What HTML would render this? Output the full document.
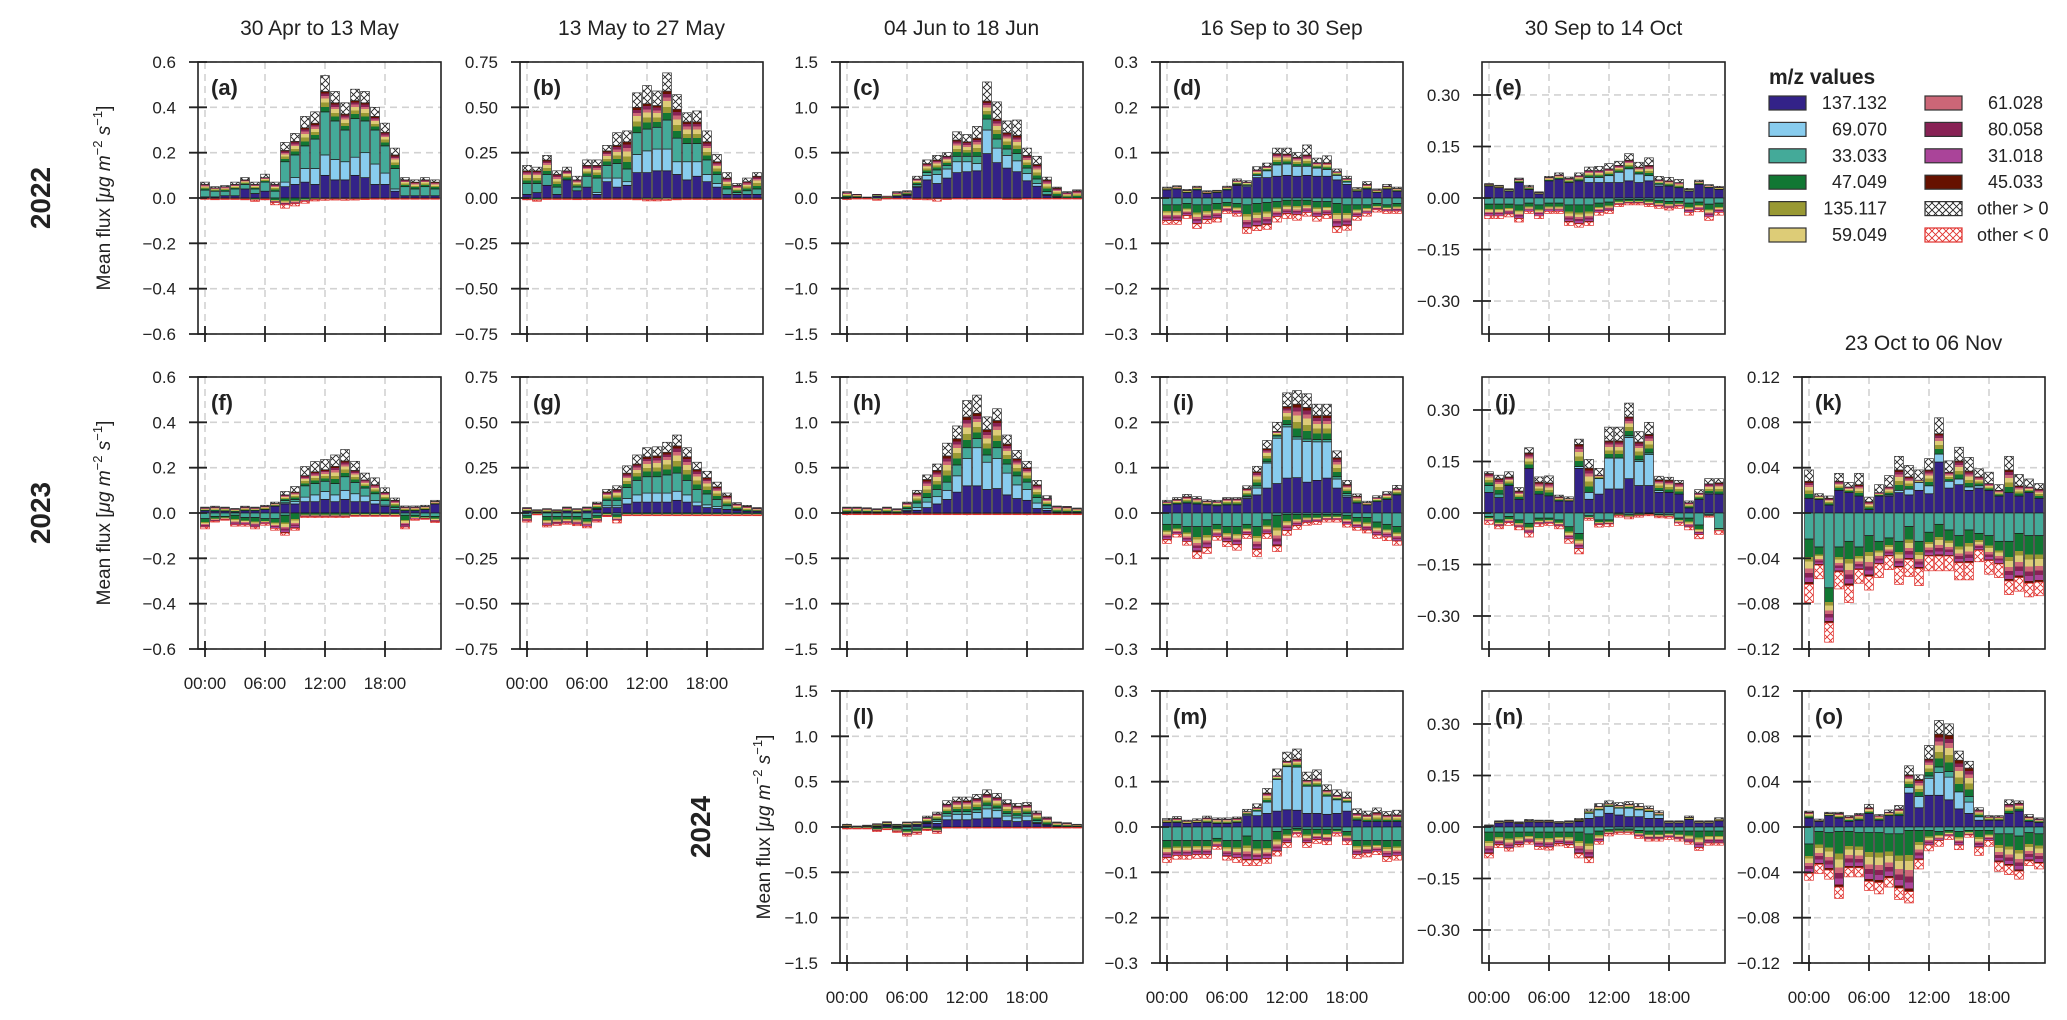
<!DOCTYPE html>
<html><head><meta charset="utf-8"><style>
html,body{margin:0;padding:0;background:#fff}
svg{display:block;font-family:"Liberation Sans",Arial,sans-serif}
</style></head><body>
<svg id="fig" width="2067" height="1020" viewBox="0 0 2067 1020" xmlns="http://www.w3.org/2000/svg">
<defs>
<pattern id="hatchPos" width="7" height="7" patternUnits="userSpaceOnUse"><rect width="7" height="7" fill="#fff"/><path d="M0,0L7,7M7,0L0,7" stroke="#222" stroke-width="0.9"/></pattern>
<pattern id="hatchNeg" width="7" height="7" patternUnits="userSpaceOnUse"><rect width="7" height="7" fill="#fff"/><path d="M0,0L7,7M7,0L0,7" stroke="#e0302c" stroke-width="0.9"/></pattern>
<linearGradient id="minPos" x1="0" y1="1" x2="0" y2="0">
<stop offset="0" stop-color="#117733"/><stop offset=".25" stop-color="#117733"/><stop offset=".25" stop-color="#999933"/><stop offset=".45" stop-color="#999933"/><stop offset=".45" stop-color="#DDCC77"/><stop offset=".65" stop-color="#DDCC77"/><stop offset=".65" stop-color="#CC6677"/><stop offset=".78" stop-color="#CC6677"/><stop offset=".78" stop-color="#882255"/><stop offset=".9" stop-color="#882255"/><stop offset=".9" stop-color="#661100"/><stop offset="1" stop-color="#661100"/>
</linearGradient>
<linearGradient id="minNeg" x1="0" y1="0" x2="0" y2="1">
<stop offset="0" stop-color="#117733"/><stop offset=".4" stop-color="#117733"/><stop offset=".4" stop-color="#999933"/><stop offset=".5" stop-color="#999933"/><stop offset=".5" stop-color="#DDCC77"/><stop offset=".65" stop-color="#DDCC77"/><stop offset=".65" stop-color="#CC6677"/><stop offset=".75" stop-color="#CC6677"/><stop offset=".75" stop-color="#882255"/><stop offset=".85" stop-color="#882255"/><stop offset=".85" stop-color="#AA4499"/><stop offset=".95" stop-color="#AA4499"/><stop offset=".95" stop-color="#661100"/><stop offset="1" stop-color="#661100"/>
</linearGradient>
</defs>
</svg>
<script>
// ---------- shared axis data ----------
const hours=[0,1,2,3,4,5,6,7,8,9,10,11,12,13,14,15,16,17,18,19,20,21,22,23];
const xTickHours=[0,6,12,18];
const xTickLabels=["00:00","06:00","12:00","18:00"];
const ticksA=[-0.6,-0.4,-0.2,0,0.2,0.4,0.6];
const tickLabelsA=["\u22120.6","\u22120.4","\u22120.2","0.0","0.2","0.4","0.6"];
const ticksB=[-0.75,-0.5,-0.25,0,0.25,0.5,0.75];
const tickLabelsB=["\u22120.75","\u22120.50","\u22120.25","0.00","0.25","0.50","0.75"];
const ticksC=[-1.5,-1,-0.5,0,0.5,1,1.5];
const tickLabelsC=["\u22121.5","\u22121.0","\u22120.5","0.0","0.5","1.0","1.5"];
const ticksD=[-0.3,-0.2,-0.1,0,0.1,0.2,0.3];
const tickLabelsD=["\u22120.3","\u22120.2","\u22120.1","0.0","0.1","0.2","0.3"];
const ticksE=[-0.3,-0.15,0,0.15,0.3];
const tickLabelsE=["\u22120.30","\u22120.15","0.00","0.15","0.30"];
const ticksK=[-0.12,-0.08,-0.04,0,0.04,0.08,0.12];
const tickLabelsK=["\u22120.12","\u22120.08","\u22120.04","0.00","0.04","0.08","0.12"];
const zeros=[0,0,0,0,0,0,0,0,0,0,0,0,0,0,0,0,0,0,0,0,0,0,0,0];

// ---------- panel (a) ----------
const a137=[.005,.005,.01,.01,.04,.02,.03,0,.05,.06,.07,.06,.1,.08,.08,.1,.09,.06,.06,.03,.01,.01,.01,.01];
const a69=[0,0,0,0,0,0,0,0,.02,.03,.06,.07,.09,.09,.08,.08,.11,.09,.05,.01,0,0,0,0];
const a33=[.03,.025,.02,.03,.02,.02,.04,.03,.09,.1,.1,.13,.19,.17,.14,.17,.14,.15,.12,.09,.04,.03,.04,.03];
const aMin=[.025,.015,.02,.02,.02,.02,.02,.03,.05,.06,.08,.07,.09,.08,.07,.08,.08,.06,.06,.06,.03,.03,.03,.03];
const aOth=[.01,.005,.005,.01,.01,.01,.015,.01,.035,.035,.05,.05,.07,.05,.05,.05,.05,.04,.04,.03,.01,.01,.01,.01];
const aNMin=[.003,.005,.004,.004,.005,.01,.005,.02,.03,.025,.015,.008,.005,.005,.005,.005,.004,.003,.003,.003,.003,.003,.003,.003];
const aNOth=[.003,.002,.002,.002,.003,.005,.003,.01,.015,.01,.008,.005,.005,.004,.005,.004,.003,.002,.002,.002,.002,.002,.002,.002];
// ---------- panel (b) ----------
const b137=[.02,.03,.07,.02,.1,.04,.06,.02,.09,.06,.07,.14,.14,.15,.15,.13,.1,.12,.09,.06,.02,.02,.02,.02];
const b69=[0,0,0,0,0,0,0,.01,.02,.05,.02,.1,.12,.12,.12,.07,.1,.08,.04,.02,0,0,0,0];
const b33=[.06,.05,.06,.04,0,.02,.06,.08,.07,.08,.07,.12,.12,.12,.16,.13,.1,.1,.08,.05,.03,.01,.02,.03];
const bMin=[.07,.07,.08,.07,.05,.04,.06,.07,.08,.1,.15,.14,.14,.12,.16,.16,.12,.12,.1,.07,.06,.04,.05,.07];
const bOth=[.03,.02,.025,.02,.02,.02,.03,.03,.03,.07,.06,.08,.1,.08,.1,.08,.05,.06,.06,.04,.03,.01,.02,.02];
const bNMin=[.006,.012,.005,.005,.005,.006,.005,.005,.005,.005,.005,.006,.01,.01,.008,.006,.005,.005,.005,.005,.005,.005,.005,.005];
const bNOth=[.004,.006,.003,.003,.003,.003,.003,.003,.003,.003,.003,.004,.006,.006,.005,.004,.003,.003,.003,.003,.003,.003,.003,.003];
// ---------- panel (c) ----------
const c137=[.01,.01,0,.02,0,.02,.03,.12,.2,.16,.22,.28,.29,.3,.49,.39,.33,.29,.19,.13,.03,.01,0,0];
const c69=[0,0,0,0,0,0,0,.01,.05,.1,.1,.12,.11,.08,.26,.16,.14,.12,.08,.03,.01,0,0,0];
const c33=[0,0,0,0,0,0,.01,.02,.03,.05,.04,.06,.06,.08,.12,.1,.07,.08,.06,.05,.03,.01,0,0];
const cMin=[.05,.03,.01,.02,.02,.04,.03,.06,.1,.11,.1,.18,.16,.2,.2,.22,.18,.2,.14,.16,.13,.09,.06,.08];
const cOth=[.01,0,0,0,0,.01,.01,.03,.04,.05,.04,.09,.08,.13,.21,.19,.13,.17,.08,.09,.03,.01,.01,.01];
const cNMin=[.01,.005,.005,.015,.005,.005,.005,.01,.01,.01,.01,.005,.005,.005,.005,.005,.01,.01,.005,.005,.005,.005,.005,.005];
const cNOth=[.005,.003,.003,.01,.003,.003,.003,.005,.01,.025,.005,.005,.005,.005,.005,.005,.005,.005,.005,.005,.003,.003,.003,.003];
// ---------- panel (d) ----------
const d137=[.018,.02,.012,.018,.01,.012,.018,.028,.025,.045,.045,.048,.05,.048,.05,.048,.048,.04,.03,.015,.02,.012,.02,.015];
const d69=[0,0,0,0,0,0,0,.002,.003,.005,.015,.025,.025,.022,.02,.018,.015,.01,.005,0,0,0,0,0];
const dMin=[.004,.005,.005,.006,.004,.004,.006,.008,.007,.012,.01,.025,.022,.02,.025,.012,.015,.008,.008,.005,.01,.006,.006,.006];
const dOth=[.002,.002,.002,.002,.002,.001,.002,.004,.003,.007,.007,.012,.013,.01,.022,.01,.015,.006,.005,.003,.006,.002,.004,.003];
const dN33=[.015,.015,.012,.015,.015,.012,.01,.012,.015,.012,.01,.008,.005,.005,.005,.008,.008,.012,.015,.015,.015,.012,.015,.012];
const dNMin=[.035,.035,.027,.042,.033,.033,.019,.022,.051,.05,.049,.033,.03,.032,.027,.033,.029,.052,.046,.026,.019,.014,.014,.017];
const dNOth=[.008,.008,.006,.01,.008,.008,.005,.006,.012,.01,.01,.012,.01,.012,.008,.01,.008,.012,.01,.008,.006,.005,.005,.005];
// ---------- panel (e) ----------
const e137=[.035,.03,.02,.045,.025,.012,.05,.055,.045,.05,.045,.045,.045,.045,.05,.045,.05,.035,.035,.03,.02,.04,.03,.025];
const e69=[0,0,0,0,0,0,0,0,0,0,.015,.015,.02,.03,.035,.025,.015,.005,0,0,0,0,0,0];
const eMin=[.005,.005,.005,.01,.008,.004,.01,.012,.012,.015,.02,.02,.02,.02,.025,.02,.03,.013,.015,.015,.005,.008,.006,.006];
const eOth=[.002,.002,.002,.003,.004,.002,.003,.006,.004,.008,.01,.012,.015,.012,.019,.014,.022,.01,.01,.009,.003,.004,.003,.003];
const eN33=[.018,.018,.018,.02,.015,.02,.015,.015,.02,.02,.02,.015,.012,.005,.004,.004,.005,.008,.01,.01,.015,.012,.018,.015];
const eNMin=[.034,.034,.029,.04,.024,.032,.024,.024,.05,.055,.05,.027,.025,.014,.011,.011,.014,.016,.019,.014,.027,.022,.037,.027];
const eNOth=[.008,.008,.008,.01,.006,.008,.006,.006,.01,.01,.01,.008,.008,.006,.005,.005,.006,.006,.006,.006,.008,.006,.01,.008];
// ---------- panel (f) ----------
const f137=[.01,.008,.008,.005,.01,.01,.015,.03,.04,.04,.05,.05,.06,.05,.06,.05,.05,.04,.03,.015,.01,.01,.015,.04];
const f69=[0,0,0,0,0,0,0,0,.005,.01,.02,.03,.035,.03,.04,.035,.025,.015,.005,0,0,0,0,0];
const f33=[0,0,0,0,0,0,0,0,.01,.01,.05,.05,.045,.05,.06,.05,.035,.03,.02,.01,0,0,0,0];
const fMin=[.013,.018,.015,.012,.016,.013,.015,.012,.025,.032,.045,.052,.051,.076,.07,.053,.036,.04,.036,.031,.016,.016,.014,.011];
const fOth=[.003,.004,.003,.003,.004,.003,.004,.006,.015,.025,.04,.045,.045,.05,.05,.04,.03,.03,.02,.01,.005,.005,.005,.005];
const fN33=[.025,.015,.015,.01,.02,.02,.025,.025,.01,0,0,0,0,0,0,0,0,0,0,0,.01,.01,.015,.015];
const fNMin=[.037,.021,.014,.042,.032,.042,.023,.043,.078,.068,.016,.016,.016,.016,.016,.012,.012,.012,.012,.012,.052,.018,.01,.023];
const fNOth=[.008,.004,.003,.006,.006,.008,.006,.008,.01,.008,.004,.004,.004,.004,.004,.003,.003,.003,.003,.003,.008,.004,.003,.004];
// ---------- panel (g) ----------
const g137=[.01,.005,.005,.005,.01,.005,.01,.02,.03,.03,.05,.06,.06,.06,.06,.07,.06,.04,.03,.025,.02,.015,.01,.01];
const g69=[0,0,0,0,0,0,0,0,.01,.01,.03,.04,.05,.05,.05,.05,.04,.02,.015,.01,0,0,0,0];
const g33=[0,0,0,0,0,0,0,.005,.03,.03,.06,.08,.09,.09,.1,.1,.08,.07,.06,.04,.02,.005,0,0];
const gMin=[.017,.011,.017,.011,.02,.017,.02,.028,.045,.06,.08,.09,.11,.115,.125,.15,.13,.11,.09,.07,.055,.03,.027,.016];
const gOth=[.003,.002,.002,.002,.003,.002,.003,.007,.015,.02,.04,.05,.05,.05,.055,.06,.05,.04,.035,.025,.015,.007,.005,.004];
const gN33=[.015,0,.02,.02,.02,.02,.03,.015,0,.01,0,0,0,0,0,0,0,0,0,0,0,0,0,0];
const gNMin=[.029,.007,.049,.041,.036,.043,.044,.029,.016,.03,.011,.011,.011,.011,.011,.011,.011,.011,.011,.011,.011,.011,.011,.011];
const gNOth=[.006,.003,.008,.007,.006,.007,.008,.006,.004,.015,.004,.004,.004,.004,.004,.004,.004,.004,.004,.004,.004,.004,.004,.004];
// ---------- panel (h) ----------
const h137=[.01,.01,.01,.01,.01,.005,.02,.03,.06,.1,.15,.23,.3,.3,.26,.27,.2,.16,.14,.05,.03,.01,.01,.01];
const h69=[0,0,0,0,0,0,.01,.03,.06,.08,.1,.18,.3,.42,.3,.33,.24,.15,.12,.06,.02,0,0,0];
const h33=[0,0,0,0,0,0,.02,.05,.05,.08,.09,.12,.12,.1,.08,.12,.1,.1,.08,.06,.03,0,0,0];
const hMin=[.05,.05,.043,.033,.05,.038,.06,.11,.2,.21,.29,.29,.34,.28,.28,.3,.22,.19,.16,.14,.08,.062,.058,.04];
const hOth=[.005,.005,.005,.004,.005,.004,.01,.03,.05,.07,.14,.14,.18,.2,.14,.13,.1,.09,.07,.05,.03,.005,.005,.005];
const hNMin=[.012,.012,.012,.012,.012,.012,.012,.012,.012,.012,.012,.012,.012,.012,.012,.012,.012,.012,.012,.012,.012,.012,.012,.012];
const hNOth=[.006,.006,.006,.006,.006,.006,.006,.006,.006,.006,.006,.006,.006,.006,.006,.006,.006,.006,.006,.006,.006,.006,.006,.006];
// ---------- panel (i) ----------
const i137=[.018,.02,.022,.02,.018,.016,.018,.018,.032,.04,.055,.065,.077,.078,.068,.072,.077,.055,.035,.022,.018,.025,.03,.04];
const i69=[0,0,0,0,0,0,0,0,.003,.015,.055,.1,.113,.085,.09,.085,.08,.02,.003,0,0,0,0,0];
const i33=[0,0,0,0,0,0,0,0,.002,.005,.003,.005,.005,.005,.005,.005,.005,.005,.005,0,0,0,0,0];
const iMin=[.007,.01,.014,.012,.008,.009,.013,.013,.017,.031,.029,.01,.04,.072,.07,.053,.053,.042,.02,.015,.005,.009,.012,.014];
const iOth=[.003,.004,.005,.004,.003,.003,.003,.003,.006,.012,.018,.02,.03,.03,.03,.025,.025,.015,.009,.005,.003,.004,.005,.007];
const iN33=[.025,.025,.03,.03,.03,.025,.03,.03,.025,.03,.015,.005,.003,.003,.003,.003,.003,.003,.005,.01,.01,.02,.025,.03];
const iNMin=[.034,.022,.033,.056,.047,.027,.034,.04,.023,.051,.031,.068,.036,.025,.018,.016,.012,.012,.02,.022,.028,.029,.028,.032];
const iNOth=[.008,.006,.008,.014,.012,.008,.01,.012,.008,.015,.01,.012,.01,.008,.006,.006,.005,.005,.006,.006,.006,.007,.008,.009];
// ---------- panel (j) ----------
const j137=[.06,.045,.08,.04,.13,.055,.05,.035,.035,.13,.04,.055,.07,.07,.1,.08,.08,.06,.06,.055,.015,.04,.055,.055];
const j69=[0,0,0,0,0,0,0,0,0,.005,.02,.045,.09,.09,.12,.07,.09,.005,0,0,0,0,.003,0];
const j33=[.02,.01,0,0,0,0,0,0,0,0,0,0,0,0,.005,.005,.005,0,0,0,0,0,0,0];
const jMin=[.035,.045,.025,.024,.045,.035,.038,.012,.007,.065,.071,.01,.05,.05,.055,.052,.054,.032,.036,.032,.015,.018,.027,.033];
const jOth=[.005,.01,.015,.01,.015,.015,.02,.005,.005,.015,.025,.02,.04,.04,.04,.03,.035,.01,.008,.008,.005,.01,.015,.012];
const jN33=[.01,.02,.01,.02,.03,.015,.015,.02,.04,.06,.008,.02,.02,.003,.005,.003,.002,.004,.005,.015,.015,.035,.005,.045];
const jNMin=[.013,.018,.018,.021,.028,.017,.015,.018,.036,.044,.008,.014,.012,.005,.007,.005,.003,.006,.006,.014,.026,.028,.004,.007];
const jNOth=[.01,.008,.008,.008,.012,.007,.006,.008,.012,.015,.005,.007,.007,.004,.005,.004,.003,.004,.004,.007,.008,.012,.003,.01];
// ---------- panel (k) ----------
const k137=[.013,.012,.007,.02,.018,.015,.003,.015,.015,.018,.016,.02,.017,.045,.022,.025,.02,.022,.02,.015,.018,.015,.018,.013];
const k69=[0,0,0,0,0,0,0,0,.001,.002,.005,.007,.007,.007,.006,.005,.003,.002,0,0,0,0,0,0];
const kMin=[.015,.003,.006,.008,.005,.01,.007,.003,.007,.018,.011,.002,.014,.018,.008,.016,.014,.008,.006,.005,.02,.009,.005,.008];
const kOth=[.01,.002,.002,.007,.004,.01,.004,.007,.01,.012,.01,.009,.01,.014,.01,.012,.012,.007,.01,.005,.012,.01,.007,.005];
const kN33=[.023,.03,.066,.03,.025,.03,.02,.025,.022,.025,.012,.025,.017,.01,.015,.02,.015,.018,.02,.025,.025,.018,.02,.02];
const kNMin=[.04,.016,.031,.022,.039,.02,.036,.02,.016,.023,.029,.024,.021,.028,.023,.024,.029,.015,.022,.02,.035,.039,.042,.041];
const kNOth=[.016,.012,.017,.015,.015,.012,.012,.012,.012,.015,.015,.015,.013,.013,.013,.015,.015,.01,.012,.012,.012,.012,.012,.012];
// ---------- panel (l) ----------
const l137=[.005,0,.005,.01,.02,.01,.01,.02,.04,.04,.08,.08,.08,.09,.1,.1,.07,.06,.07,.04,.02,.01,.005,.005];
const l69=[0,0,0,0,0,0,0,0,.005,.02,.04,.06,.06,.07,.1,.08,.05,.04,.05,.01,0,0,0,0];
const l33=[0,0,0,0,.005,0,.01,.01,.01,.02,.03,.03,.03,.03,.04,.03,.03,.03,.03,.02,.01,0,0,0];
const lMin=[.022,.009,.013,.022,.028,.017,.03,.022,.05,.064,.1,.115,.12,.125,.12,.115,.11,.1,.09,.085,.07,.04,.037,.022];
const lOth=[.003,.001,.002,.004,.005,.003,.005,.006,.015,.02,.04,.045,.04,.045,.05,.045,.04,.03,.03,.02,.01,.005,.005,.003];
const lN33=[0,0,0,.01,0,.01,.03,.02,0,.01,0,0,0,0,0,0,0,0,0,0,0,0,0,0];
const lNMin=[.015,.015,.015,.03,.022,.04,.055,.045,.03,.045,.005,.005,.005,.005,.005,.005,.005,.005,.005,.005,.005,.005,.005,.005];
const lNOth=[.005,.005,.005,.01,.008,.01,.015,.015,.01,.015,.005,.005,.005,.005,.005,.005,.005,.005,.005,.005,.005,.005,.005,.005];
// ---------- panel (m) ----------
const m137=[.01,.01,.008,.01,.01,.008,.008,.01,.025,.025,.03,.035,.038,.037,.03,.03,.028,.03,.035,.015,.012,.012,.012,.012];
const m69=[0,0,0,0,0,0,0,0,.003,.01,.025,.07,.095,.095,.06,.06,.04,.03,.02,0,0,0,0,0];
const mMin=[.006,.009,.005,.005,.01,.009,.009,.009,.006,.008,.02,.008,.012,.018,.013,.016,.013,.01,.01,.015,.015,.02,.014,.015];
const mOth=[.003,.004,.002,.003,.004,.003,.003,.003,.005,.008,.01,.015,.02,.022,.018,.02,.012,.012,.012,.01,.008,.01,.008,.01];
const mN33=[.03,.03,.03,.03,.03,.025,.03,.03,.02,.03,.03,.01,.005,.003,.005,.005,.005,.005,.01,.03,.03,.03,.03,.03];
const mNMin=[.038,.033,.033,.031,.031,.018,.035,.038,.053,.043,.04,.044,.03,.012,.03,.023,.026,.009,.021,.031,.028,.024,.036,.033];
const mNOth=[.01,.008,.008,.008,.008,.006,.008,.01,.012,.012,.01,.01,.01,.007,.01,.008,.008,.006,.008,.008,.008,.007,.01,.01];
// ---------- panel (n) ----------
const n137=[.004,.012,.014,.01,.015,.014,.014,.011,.012,.016,.025,.03,.04,.035,.03,.03,.025,.025,.012,.012,.022,.012,.012,.018];
const n69=[0,0,0,0,0,0,0,0,0,.002,.015,.02,.02,.02,.025,.02,.02,.01,0,0,0,0,0,0];
const nMin=[.001,.004,.004,.003,.004,.004,.004,.003,.004,.004,.007,.01,.008,.008,.011,.01,.009,.007,.004,.004,.006,.004,.004,.005];
const nOth=[.001,.002,.002,.002,.003,.002,.002,.002,.002,.003,.005,.008,.008,.008,.008,.008,.007,.005,.002,.002,.004,.002,.002,.004];
const nN33=[.015,.015,.015,.015,.015,.015,.015,.015,.015,.015,.02,.012,.008,.006,.006,.01,.012,.012,.012,.012,.012,.012,.012,.012];
const nNMin=[.063,.037,.047,.037,.029,.042,.044,.034,.037,.063,.07,.03,.012,.01,.01,.017,.023,.023,.018,.023,.032,.048,.035,.035];
const nNOth=[.012,.008,.008,.006,.006,.008,.008,.006,.008,.012,.014,.008,.006,.005,.005,.006,.006,.006,.006,.006,.006,.008,.006,.006];
// ---------- panel (o) ----------
const o137=[.008,.005,.01,.008,.005,.006,.012,.006,.01,.01,.03,.017,.028,.028,.024,.016,.012,.006,.006,.006,.012,.014,.005,.004];
const o69=[0,0,0,0,0,0,0,0,0,0,.005,.01,.015,.02,.02,.015,.01,.003,0,0,0,0,0,0];
const o33=[0,0,0,0,0,0,0,0,0,0,0,0,.002,.005,.005,0,.005,0,0,0,0,0,0,0];
const oMin=[.005,.001,.002,.004,.004,.005,.005,.004,.003,.006,.011,.015,.015,.029,.032,.028,.025,.006,.003,.003,.008,.007,.004,.003];
const oOth=[.001,.001,.001,.001,.001,.001,.003,.001,.002,.003,.008,.004,.012,.012,.01,.008,.006,.002,.001,.001,.004,.002,.002,.001];
const oN33=[.015,.004,.005,.004,.004,.005,.005,.005,.006,.006,.003,.003,.003,.004,.003,.004,.003,.003,.003,.006,.006,.008,.005,.006];
const oNMin=[.026,.029,.033,.049,.032,.031,.043,.044,.039,.048,.054,.026,.013,.008,.005,.012,.004,.015,.009,.025,.028,.031,.025,.026];
const oNOth=[.006,.008,.008,.01,.008,.008,.008,.01,.008,.01,.01,.008,.005,.005,.003,.004,.002,.007,.005,.008,.008,.007,.004,.005];

// ---------- layout ----------
const colLeft=[198,520,840,1160,1482,1802];
const rowTop=[62,377,691];
const PW=243, PH=272;
const posFill=["#332288","#88CCEE","#44AA99","url(#minPos)","url(#hatchPos)"];
const posNames=["137-132","69-070","33-033","minor-pos","other-pos"];
const negFill=["#44AA99","url(#minNeg)","url(#hatchNeg)"];
const negNames=["33-033-neg","minor-neg","other-neg"];

const panels=[
 {id:'a',c:0,r:0,ymax:0.6,t:ticksA,tl:tickLabelsA,pos:[a137,a69,a33,aMin,aOth],neg:[zeros,aNMin,aNOth],xl:false},
 {id:'b',c:1,r:0,ymax:0.75,t:ticksB,tl:tickLabelsB,pos:[b137,b69,b33,bMin,bOth],neg:[zeros,bNMin,bNOth],xl:false},
 {id:'c',c:2,r:0,ymax:1.5,t:ticksC,tl:tickLabelsC,pos:[c137,c69,c33,cMin,cOth],neg:[zeros,cNMin,cNOth],xl:false},
 {id:'d',c:3,r:0,ymax:0.3,t:ticksD,tl:tickLabelsD,pos:[d137,d69,zeros,dMin,dOth],neg:[dN33,dNMin,dNOth],xl:false},
 {id:'e',c:4,r:0,ymax:0.396,t:ticksE,tl:tickLabelsE,pos:[e137,e69,zeros,eMin,eOth],neg:[eN33,eNMin,eNOth],xl:false},
 {id:'f',c:0,r:1,ymax:0.6,t:ticksA,tl:tickLabelsA,pos:[f137,f69,f33,fMin,fOth],neg:[fN33,fNMin,fNOth],xl:true},
 {id:'g',c:1,r:1,ymax:0.75,t:ticksB,tl:tickLabelsB,pos:[g137,g69,g33,gMin,gOth],neg:[gN33,gNMin,gNOth],xl:true},
 {id:'h',c:2,r:1,ymax:1.5,t:ticksC,tl:tickLabelsC,pos:[h137,h69,h33,hMin,hOth],neg:[zeros,hNMin,hNOth],xl:false},
 {id:'i',c:3,r:1,ymax:0.3,t:ticksD,tl:tickLabelsD,pos:[i137,i69,i33,iMin,iOth],neg:[iN33,iNMin,iNOth],xl:false},
 {id:'j',c:4,r:1,ymax:0.396,t:ticksE,tl:tickLabelsE,pos:[j137,j69,j33,jMin,jOth],neg:[jN33,jNMin,jNOth],xl:false},
 {id:'k',c:5,r:1,ymax:0.12,t:ticksK,tl:tickLabelsK,pos:[k137,k69,zeros,kMin,kOth],neg:[kN33,kNMin,kNOth],xl:false},
 {id:'l',c:2,r:2,ymax:1.5,t:ticksC,tl:tickLabelsC,pos:[l137,l69,l33,lMin,lOth],neg:[lN33,lNMin,lNOth],xl:true},
 {id:'m',c:3,r:2,ymax:0.3,t:ticksD,tl:tickLabelsD,pos:[m137,m69,zeros,mMin,mOth],neg:[mN33,mNMin,mNOth],xl:true},
 {id:'n',c:4,r:2,ymax:0.396,t:ticksE,tl:tickLabelsE,pos:[n137,n69,zeros,nMin,nOth],neg:[nN33,nNMin,nNOth],xl:true},
 {id:'o',c:5,r:2,ymax:0.12,t:ticksK,tl:tickLabelsK,pos:[o137,o69,o33,oMin,oOth],neg:[oN33,oNMin,oNOth],xl:true}
];

const NS="http://www.w3.org/2000/svg";
const svg=document.getElementById('fig');
function mk(tag,parent,attrs){const e=document.createElementNS(NS,tag);for(const k in attrs)e.setAttribute(k,attrs[k]);parent.appendChild(e);return e;}

panels.forEach(p=>{
  const L=colLeft[p.c], T=rowTop[p.r];
  const xs=h=>L+7+10*h;
  const ys=v=>T+PH/2-v/p.ymax*(PH/2);
  const g=mk('g',svg,{});
  
  
  // grid
  xTickHours.forEach(h=>{
    const ln=mk('line',g,{x1:xs(h),x2:xs(h),y1:T,y2:T+PH,stroke:'#d2d2d2','stroke-width':1.6,'stroke-dasharray':'7,5'});
    
    
  });
  p.t.forEach(v=>{
    const ln=mk('line',g,{x1:L,x2:L+PW,y1:ys(v),y2:ys(v),stroke:'#d2d2d2','stroke-width':1.6,'stroke-dasharray':'7,5'});
    
    
  });
  // bars
  hours.forEach(h=>{
    let cum=0;
    p.pos.forEach((arr,si)=>{
      const v=arr[h]; if(!(v>0))return;
      const r=mk('rect',g,{x:xs(h)-4.4,y:ys(cum+v),width:8.8,height:Math.max(0.6,ys(cum)-ys(cum+v)),fill:posFill[si],stroke:si===4?'#333':'#1a1a1a','stroke-width':0.7});
      
      
      cum+=v;
    });
    let nc=0;
    p.neg.forEach((arr,si)=>{
      const v=arr[h]; if(!(v>0))return;
      const r=mk('rect',g,{x:xs(h)-4.4,y:ys(-nc),width:8.8,height:Math.max(0.6,ys(-nc-v)-ys(-nc)),fill:negFill[si],stroke:si===2?'#e0302c':'#1a1a1a','stroke-width':0.7});
      
      
      nc+=v;
    });
  });
  // frame
  const fr=mk('rect',g,{x:L,y:T,width:PW,height:PH,fill:'none',stroke:'#222','stroke-width':1.6});
  
  
  // y ticks
  p.t.forEach((v,i)=>{
    const tk=mk('line',g,{x1:L-9,x2:L+9,y1:ys(v),y2:ys(v),stroke:'#222','stroke-width':1.8});
    
    
    const tx=mk('text',g,{x:L-22,y:ys(v)+6,'text-anchor':'end','font-size':17,fill:'#222'});
    tx.textContent=p.tl[i];
    
    
  });
  // x ticks
  xTickHours.forEach((h,i)=>{
    const tk=mk('line',g,{x1:xs(h),x2:xs(h),y1:T+PH-8,y2:T+PH+8,stroke:'#222','stroke-width':1.8});
    
    
    if(p.xl){
      const tx=mk('text',g,{x:xs(h),y:T+PH+40,'text-anchor':'middle','font-size':17,fill:'#222'});
      tx.textContent=xTickLabels[i];
      
      
    }
  });
  const lab=mk('text',g,{x:L+13,y:T+33,'font-size':22,'font-weight':'bold',fill:'#222'});
  lab.textContent='('+p.id+')';
  
  
});

// column titles
const colTitles=["30 Apr to 13 May","13 May to 27 May","04 Jun to 18 Jun","16 Sep to 30 Sep","30 Sep to 14 Oct"];
colTitles.forEach((t,i)=>{
  const tx=mk('text',svg,{x:colLeft[i]+PW/2,y:35,'text-anchor':'middle','font-size':21,fill:'#222'});
  tx.textContent=t;
  
  
});
const kt=mk('text',svg,{x:colLeft[5]+PW/2,y:350,'text-anchor':'middle','font-size':21,fill:'#222'});
kt.textContent="23 Oct to 06 Nov";



// year labels + axis titles
const yearRows=[{y:"2022",x:40,r:0},{y:"2023",x:40,r:1},{y:"2024",x:700,r:2}];
yearRows.forEach(o=>{
  const cy=rowTop[o.r]+PH/2;
  const tx=mk('text',svg,{x:o.x,y:cy,'text-anchor':'middle','font-size':28,'font-weight':'bold',fill:'#222',transform:`rotate(-90 ${o.x} ${cy})`,dy:10});
  tx.textContent=o.y;
  
  
  const ax=o.x+63;
  const at=mk('text',svg,{x:ax,y:cy,'text-anchor':'middle','font-size':19,fill:'#222',transform:`rotate(-90 ${ax} ${cy})`,dy:7});
  at.innerHTML='Mean flux [<tspan font-style="italic">μg m</tspan><tspan font-size="13" dy="-8">−2</tspan><tspan dy="8" font-style="italic"> s</tspan><tspan font-size="13" dy="-8">−1</tspan><tspan dy="8">]</tspan>';
  
  
});

// legend
const legLabels=["137.132","69.070","33.033","47.049","135.117","59.049","61.028","80.058","31.018","45.033","other > 0","other < 0"];
const legFills=["#332288","#88CCEE","#44AA99","#117733","#999933","#DDCC77","#CC6677","#882255","#AA4499","#661100","url(#hatchPos)","url(#hatchNeg)"];
const lg=mk('g',svg,{});


const lt=mk('text',lg,{x:1769,y:84,'font-size':21,'font-weight':'bold',fill:'#222'});
lt.textContent="m/z values";


legLabels.forEach((s,i)=>{
  const col=Math.floor(i/6), row=i%6;
  const sx=col?1925:1769, cy=103+row*26.4;
  const sw=mk('rect',lg,{x:sx,y:cy-7,width:37,height:14,fill:legFills[i],stroke:i===11?'#e0302c':'#333','stroke-width':1.2});
  
  
  const isOther=i>=10;
  const tx=mk('text',lg,{x:isOther?1977:(col?2043:1887),y:cy+6,'text-anchor':isOther?'start':'end','font-size':18,fill:'#222'});
  tx.textContent=s;
  
  
});
</script>
</body></html>
